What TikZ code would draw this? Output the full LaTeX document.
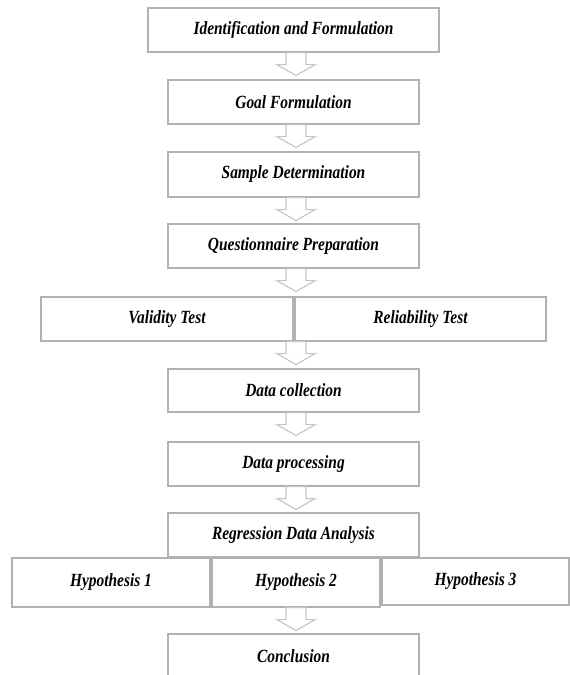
\documentclass[tikz,border=0pt]{standalone}
\usepackage{fontspec}
\newfontfamily\boxfont[FakeStretch=0.83]{Liberation Serif}
\usetikzlibrary{calc}
\tikzset{block/.style = {draw=gray!60, fill=white, line width=1.2pt, rectangle, inner sep=0pt,
                         minimum height=44pt, minimum width=251pt,
                         font=\boxfont\bfseries\itshape\fontsize{18.6}{20}\selectfont},
         hollow/.style = {draw=gray!45, fill=white, line width=1.2pt, line join=miter}}
% hollow block arrow below node #1, centred on node #2
\newcommand{\flowto}[2]{%
  \draw[hollow] let \p1=(#1.south), \p2=(#2.north) in
    (\x2-7.5pt,\y1) -- (\x2-7.5pt,\y1-12pt) -- (\x2-16.5pt,\y1-12pt) -- (\x2+2.5pt,\y1-23pt)
    -- (\x2+21.5pt,\y1-12pt) -- (\x2+12.5pt,\y1-12pt) -- (\x2+12.5pt,\y1) -- cycle;}

\begin{document}
\begin{tikzpicture}[x=1pt,y=-1pt]
    \useasboundingbox (0,0) rectangle (570,675);

    \node[block, minimum width=291pt](ident)at(293.5,30){Identification and Formulation};
    \node[block](goal)at(293.5,102){Goal Formulation};
    \node[block, minimum height=45pt](sample)at(293.5,174.5){Sample Determination};
    \node[block](quest)at(293.5,246){Questionnaire Preparation};
    \node[block, minimum width=252pt](valid)at(167,319){Validity Test};
    \node[block](reliab)at(420.5,319){Reliability Test};
    \node[block, minimum height=43pt](collect)at(293.5,390.5){Data collection};
    \node[block](process)at(293.5,464){Data processing};
    \node[block](regress)at(293.5,535){Regression Data Analysis};
    \node[block, minimum width=198pt, minimum height=49pt](hypa)at(111,582.5){Hypothesis 1};
    \node[block, minimum width=168pt, minimum height=49pt](hypb)at(296,582.5){Hypothesis 2};
    \node[block, minimum width=187pt, minimum height=47pt](hypc)at(475.5,581.5){Hypothesis 3};
    \node[block, minimum height=45pt](concl)at(293.5,656.5){Conclusion};

    \flowto{ident}{goal}
    \flowto{goal}{sample}
    \flowto{sample}{quest}
    \flowto{quest}{valid.north -| goal}
    \flowto{valid}{collect}
    \flowto{collect}{process}
    \flowto{process}{regress}
    \flowto{hypb}{concl}
\end{tikzpicture}
\end{document}
